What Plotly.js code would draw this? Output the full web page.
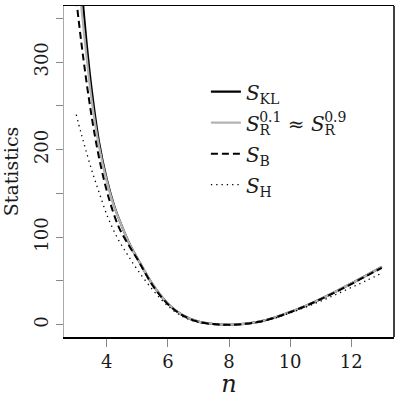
<!DOCTYPE html>
<html>
<head>
<meta charset="utf-8">
<script src="https://cdn.plot.ly/plotly-3.0.1.min.js"></script>
<style>html,body{margin:0;padding:0;background:#fff}</style>
</head>
<body>
<div id="plot" style="width:399px;height:398px"></div>
<script>
// values
var n_kl = [3.2, 3.35, 3.5, 3.75, 4, 4.25, 4.5, 4.75, 5, 5.5, 6, 6.5, 7, 7.5, 8, 8.5, 9, 9.5, 10, 10.5, 11, 11.5, 12, 12.5, 13];
var s_kl = [375, 318, 270, 208, 166, 135, 112, 92, 76, 46, 24, 10.5, 3.5, 0.8, 0, 0.9, 3.6, 8.2, 14.5, 21.5, 29.5, 38, 47, 56.5, 66];

var n_r = [3.12, 3.25, 3.5, 3.75, 4, 4.25, 4.5, 4.75, 5, 5.5, 6, 6.5, 7, 7.5, 8, 8.5, 9, 9.5, 10, 10.5, 11, 11.5, 12, 12.5, 13];
var s_r = [380, 335, 258, 203, 164, 134, 112, 92, 76, 46, 24, 10.5, 3.5, 0.8, 0, 0.9, 3.6, 8.2, 14.5, 21.5, 29.5, 38, 47, 56.5, 66];

var n_b = [3, 3.13, 3.26, 3.42, 3.58, 3.8, 4.08, 4.4, 4.75, 5, 5.5, 6, 6.5, 7, 7.5, 8, 8.5, 9, 9.5, 10, 10.5, 11, 11.5, 12, 12.5, 13];
var s_b = [372, 333, 297, 257, 222, 182, 143, 111, 89, 75, 45, 23.5, 10.3, 3.4, 0.8, 0, 0.9, 3.5, 8.1, 14.3, 21.2, 29.2, 37.6, 46.5, 55.8, 65];

var n_h = [3, 3.15, 3.31, 3.53, 3.75, 4.02, 4.35, 4.67, 5, 5.5, 6, 6.5, 7, 7.5, 8, 8.5, 9, 9.5, 10, 10.5, 11, 11.5, 12, 12.5, 13];
var s_h = [240, 220, 200, 174, 151, 124, 99, 80.5, 63, 40, 21.5, 9, 2.8, 0.5, 0, 0.8, 3.3, 7.6, 13.5, 20, 27, 34.5, 42.5, 50.5, 59];

// sub and sup pulled together so 0.1 sits over R
var names = [
  '<i>S</i><sub>KL</sub>',
  '<i>S</i><sub><span style="letter-spacing:-11px">R\u200b</span></sub><sup>0.1</sup> \u2248 <i>S</i><sub><span style="letter-spacing:-11px">R\u200b</span></sub><sup>0.9</sup>',
  '<i>S</i><sub>B</sub>',
  '<i>S</i><sub>H</sub>'
];

var serif = 'DejaVu Serif';

var data = [
  {x: n_kl, y: s_kl, name: names[0], legendgroup: 'kl', type: 'scatter', mode: 'lines',
   line: {color: '#000', width: 2.2, shape: 'spline'}},
  {x: n_r, y: s_r, name: names[1], legendgroup: 'r', type: 'scatter', mode: 'lines',
   line: {color: '#b3b3b3', width: 2.2, shape: 'spline'}},
  {x: n_b, y: s_b, name: names[2], legendgroup: 'b', type: 'scatter', mode: 'lines',
   line: {color: '#000', width: 2, dash: '7px,4px', shape: 'spline'}},
  {x: n_h, y: s_h, name: names[3], legendgroup: 'h', type: 'scatter', mode: 'lines',
   line: {color: '#000', width: 1.3, dash: '1.3px,4px', shape: 'spline'}}
];

var layout = {
  width: 399,
  height: 398,
  margin: {l: 64, r: 5, t: 6, b: 61},
  paper_bgcolor: '#fff',
  plot_bgcolor: '#fff',
  font: {family: serif, color: '#1a1a1a', size: 18},
  showlegend: true,
  legend: {
    x: 0.43, y: 0.80, xanchor: 'left', yanchor: 'top',
    bgcolor: 'rgba(0,0,0,0)',
    font: {family: serif, size: 20, color: '#1a1a1a'},
    itemwidth: 30, tracegroupgap: 2
  },
  xaxis: {
    range: [2.6, 13.4],
    dtick: 2, tick0: 0,
    showgrid: false, zeroline: false,
    showline: true, linecolor: '#000', linewidth: 1.5, mirror: true,
    ticks: 'outside', ticklen: 8, tickcolor: '#888', tickwidth: 1,
    tickfont: {family: serif, size: 18, color: '#1a1a1a'},
    title: {text: '<i>n</i>', font: {family: serif, size: 24, color: '#1a1a1a'}, standoff: 10}
  },
  yaxis: {
    range: [-14, 364],
    dtick: 100, tick0: 0,
    tickangle: -90,
    showgrid: false, zeroline: false,
    showline: true, linecolor: '#aaa', linewidth: 1.5,
    ticks: 'outside', ticklen: 7, tickcolor: '#888', tickwidth: 1,
    minor: {dtick: 50, ticks: 'outside', ticklen: 7, tickcolor: '#888', tickwidth: 1},
    tickfont: {family: serif, size: 18, color: '#1a1a1a'},
    title: {text: 'Statistics', font: {family: serif, size: 19, color: '#1a1a1a'}, standoff: 9}
  },
  shapes: [
    {type: 'line', xref: 'paper', yref: 'paper', x0: 1, x1: 1, y0: 0, y1: 1,
     line: {color: '#000', width: 1.5}}
  ]
};

Plotly.newPlot('plot', data, layout, {displayModeBar: false, staticPlot: true});
</script>
</body>
</html>
